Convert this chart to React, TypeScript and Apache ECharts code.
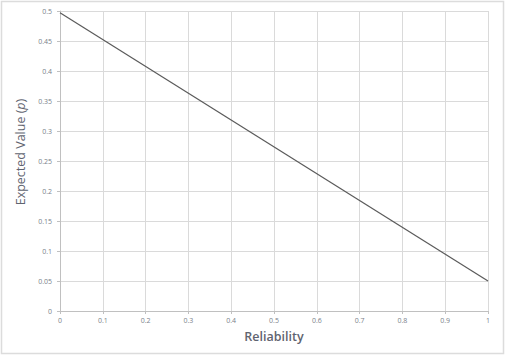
import React, { useEffect, useRef } from "react";
import * as echarts from "echarts";

const reliability = [0, 1];
const expectedValue = [0.497, 0.05];
const xTitle = "Reliability";

export default function App() {
  const ref = useRef<HTMLDivElement>(null);
  useEffect(() => {
    if (!ref.current) return;
    const chart = echarts.init(ref.current, null, { renderer: "svg" });
    const labelStyle = { fontSize: 7, color: "#7a7f8a", fontFamily: "Open Sans" };
    chart.setOption({
      animation: false,
      backgroundColor: "#ffffff",
      grid: { left: 60, right: 18, top: 11, bottom: 46 },
      graphic: [
        {
          type: "rect",
          shape: { x: 1.5, y: 1.5, width: 502, height: 352 },
          style: { fill: "none", stroke: "#dcdcdc", lineWidth: 1.5 },
          silent: true,
        },
        {
          type: "text",
          x: 20,
          y: 152,
          rotation: Math.PI / 2,
          style: {
            text: "Expected Value ({i|p})",
            rich: { i: { fontStyle: "italic", fontSize: 12.5, fontFamily: "Open Sans", fill: "#5f6470" } },
            fontSize: 12.5,
            fontFamily: "Open Sans",
            fill: "#5f6470",
            align: "center",
            verticalAlign: "middle",
          },
        },
      ],
      xAxis: {
        type: "value",
        min: 0,
        max: 1,
        interval: 0.1,
        name: xTitle,
        nameLocation: "middle",
        nameGap: 19,
        nameTextStyle: { fontSize: 12.5, fontWeight: 600, color: "#5f6470", fontFamily: "Open Sans" },
        axisLine: { show: true, lineStyle: { color: "#c0c0c0", width: 1 } },
        axisTick: { show: true, length: 3, lineStyle: { color: "#c0c0c0" } },
        axisLabel: { ...labelStyle, margin: 6 },
        splitLine: { show: true, lineStyle: { color: "#dadada", width: 1 } },
      },
      yAxis: {
        type: "value",
        min: 0,
        max: 0.5,
        interval: 0.05,
        axisLine: { show: true, lineStyle: { color: "#c0c0c0", width: 1 } },
        axisTick: { show: true, length: 3, lineStyle: { color: "#c0c0c0" } },
        axisLabel: { ...labelStyle, margin: 8 },
        splitLine: { show: true, lineStyle: { color: "#dadada", width: 1 } },
      },
      series: [
        {
          type: "line",
          data: reliability.map((r, i) => [r, expectedValue[i]]),
          symbol: "none",
          lineStyle: { color: "#5a5a5a", width: 1.2 },
        },
      ],
    });
    return () => chart.dispose();
  }, []);
  return (
    <div
      ref={ref}
      style={{ position: "fixed", left: 0, top: 0, width: 506, height: 357 }}
    />
  );
}
